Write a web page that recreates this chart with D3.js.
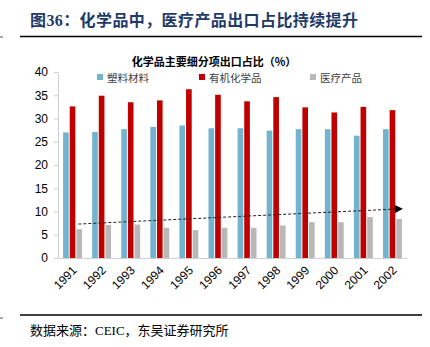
<!DOCTYPE html>
<html><head><meta charset="utf-8">
<script src="https://cdn.jsdelivr.net/npm/d3@7"></script>
<style>body{margin:0;background:#fff}svg{display:block}</style>
</head><body>
<script>
const years = ["1991","1992","1993","1994","1995","1996","1997","1998","1999","2000","2001","2002"];
const seriesNames = ["塑料材料","有机化学品","医疗产品"];
const plastics = [27.0,27.1,27.7,28.2,28.5,27.9,27.9,27.4,27.7,27.7,26.3,27.7];
const organics = [32.6,34.9,33.5,33.9,36.3,35.1,33.7,34.6,32.4,31.3,32.5,31.8];
const medical  = [6.2,7.1,7.2,6.5,6.0,6.5,6.5,7.0,7.7,7.7,8.8,8.4];
const trendValues = [7.3,10.6];
const yTicks = [0,5,10,15,20,25,30,35,40];
const colors = ["#72b3cd","#c00000","#b8b8b8"];

(function(){
const W=430,H=347;
const svg=d3.select("body").append("svg").attr("width",W).attr("height",H);
const cjk="'Noto Sans CJK SC',sans-serif";

// header
svg.append("text").attr("x",30).attr("y",26).attr("font-family","'Liberation Serif','Noto Sans CJK SC',serif")
  .attr("font-size",16).attr("font-weight","bold").attr("fill","#1f3a68").attr("letter-spacing",0.4)
  .text("图36：化学品中，医疗产品出口占比持续提升");
svg.append("line").attr("x1",20).attr("x2",422).attr("y1",36.5).attr("y2",36.5).attr("stroke","#000").attr("stroke-width",1.6);
svg.append("line").attr("x1",0).attr("x2",3).attr("y1",37).attr("y2",37).attr("stroke","#555").attr("stroke-width",1);

// footer
svg.append("line").attr("x1",20).attr("x2",422).attr("y1",315).attr("y2",315).attr("stroke","#000").attr("stroke-width",1.6);
svg.append("line").attr("x1",0).attr("x2",3).attr("y1",318).attr("y2",318).attr("stroke","#555").attr("stroke-width",1);
svg.append("text").attr("x",30).attr("y",335).attr("font-family","'Liberation Serif','Noto Sans CJK SC',serif")
  .attr("font-size",13).attr("fill","#000").text("数据来源：CEIC，东吴证券研究所");

// chart title
svg.append("text").attr("x",214).attr("y",66).attr("text-anchor","middle").attr("font-family",cjk)
  .attr("font-size",11).attr("font-weight","bold").attr("fill","#000").text("化学品主要细分项出口占比（%）");

const pL=58,pR=407,pT=72,pB=258;
const y=d3.scaleLinear().domain([0,40]).range([pB,pT]);
const x0=d3.scaleBand().domain(years).range([pL,pR]).paddingInner(0.35).paddingOuter(0.175);
const x1=d3.scaleBand().domain(seriesNames).range([0,x0.bandwidth()]).paddingInner(0.15);

// axes
const ya=svg.append("g").attr("transform",`translate(${pL},0)`)
  .call(d3.axisLeft(y).tickValues(yTicks).tickSize(4).tickPadding(6));
ya.select(".domain").attr("stroke","#d0d0d0");
ya.selectAll(".tick line").attr("stroke","#d0d0d0");
ya.selectAll("text").attr("font-family","'Liberation Sans',Arial,sans-serif").attr("font-size",12).attr("fill","#000");

const xa=svg.append("g").attr("transform",`translate(0,${pB})`)
  .call(d3.axisBottom(x0).tickSize(0).tickPadding(0));
xa.select(".domain").attr("stroke","#d0d0d0");
xa.selectAll("text").attr("font-family","'Liberation Sans',Arial,sans-serif").attr("font-size",12).attr("fill","#000")
  .attr("text-anchor","end").attr("dy",0).attr("transform","translate(5,13) rotate(-45)");

// bars
const seriesData=[plastics,organics,medical];
seriesData.forEach((vals,si)=>{
  svg.append("g").selectAll("rect").data(vals).join("rect")
    .attr("x",(d,i)=>x0(years[i])+x1(seriesNames[si]))
    .attr("width",x1.bandwidth())
    .attr("y",d=>y(d)).attr("height",d=>pB-y(d))
    .attr("fill",colors[si]);
});

// trend arrow
svg.append("defs").append("marker").attr("id","arr").attr("viewBox","0 0 10 10").attr("refX",10).attr("refY",5)
  .attr("markerWidth",9).attr("markerHeight",8).attr("markerUnits","userSpaceOnUse").attr("orient","auto")
  .append("path").attr("d","M0,0L10,5L0,10Z").attr("fill","#000");
const tx1=x0(years[0])+x1(seriesNames[2])+2;
const tx2=x0(years[years.length-1])+x0.bandwidth()+1;
svg.append("line").attr("x1",tx1).attr("y1",y(trendValues[0])).attr("x2",tx2).attr("y2",y(trendValues[1]))
  .attr("stroke","#222").attr("stroke-width",1).attr("stroke-dasharray","3,2").attr("marker-end","url(#arr)");

// legend
const legX=[97,199,310];
seriesNames.forEach((n,i)=>{
  svg.append("rect").attr("x",legX[i]).attr("y",74).attr("width",6).attr("height",6).attr("fill",colors[i]);
  svg.append("text").attr("x",legX[i]+10).attr("y",81.5).attr("font-family",cjk).attr("font-size",10.5)
    .attr("fill","#404040").text(n);
});
})();
</script>
</body></html>
